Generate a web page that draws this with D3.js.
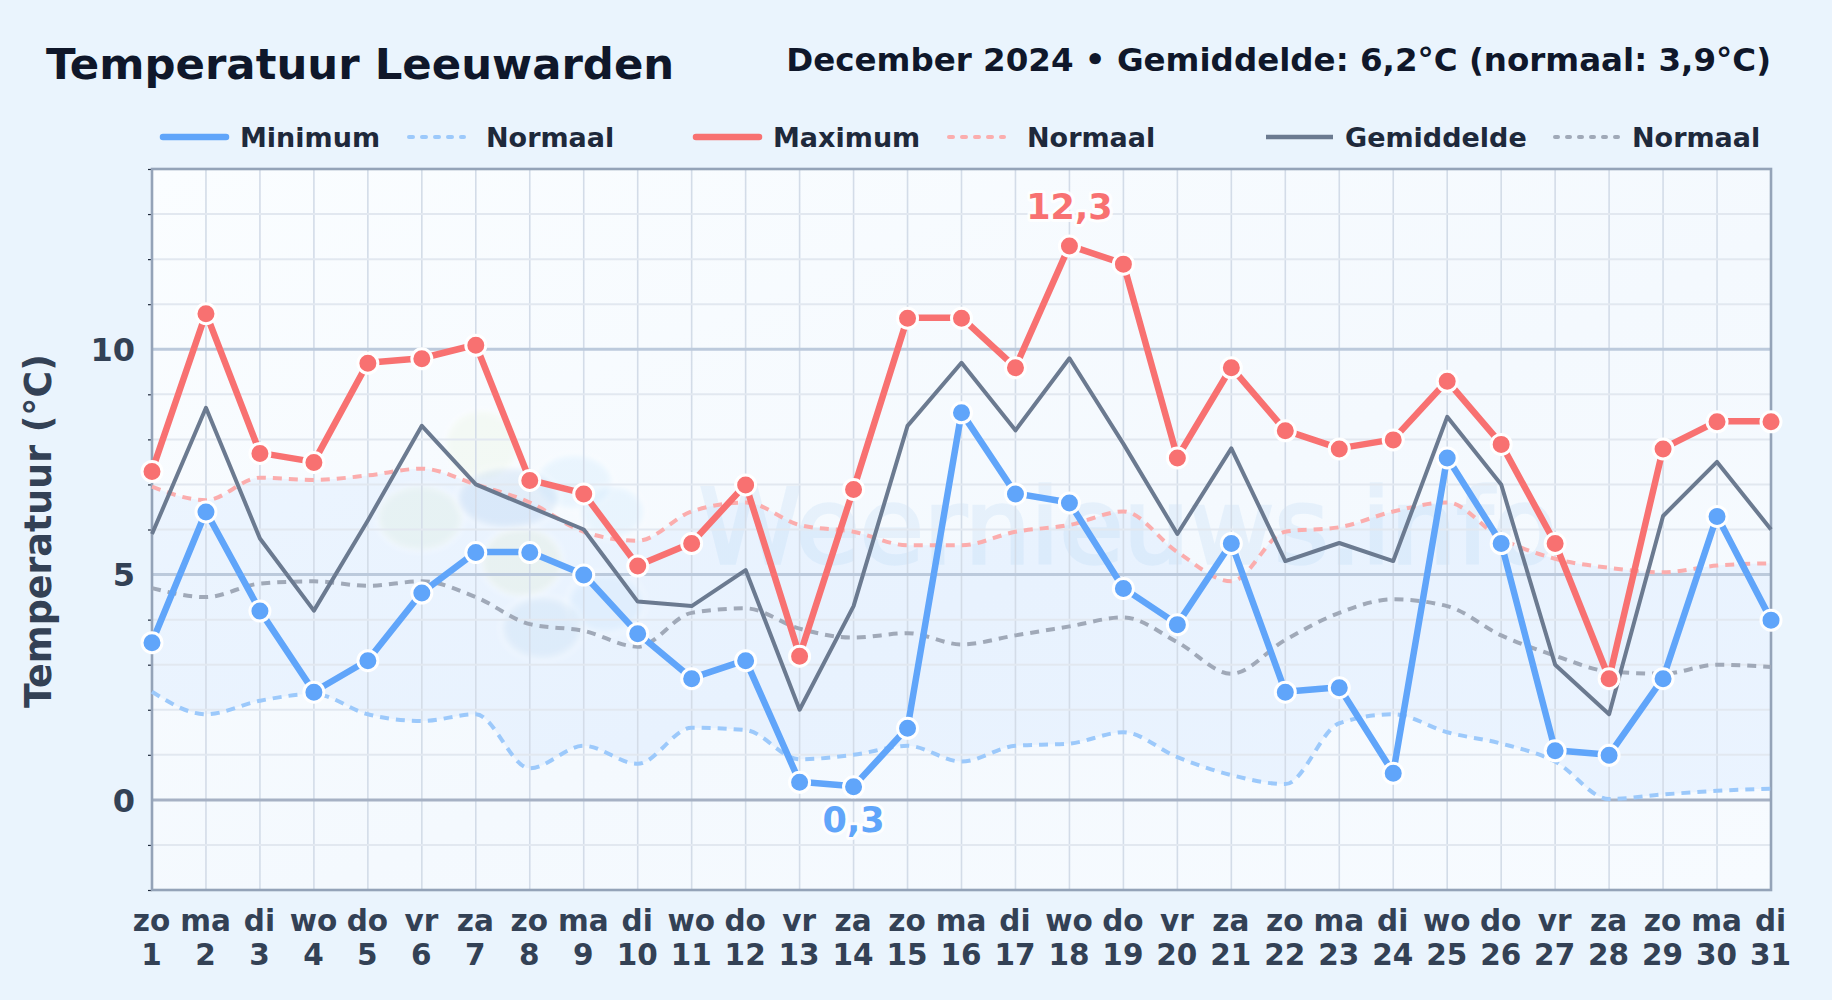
<!DOCTYPE html>
<html>
<head>
<meta charset="utf-8">
<title>Temperatuur Leeuwarden</title>
<script src="https://d3js.org/d3.v7.min.js"></script>
<style>
  html, body { margin: 0; padding: 0; background: #eaf4fd; }
  svg { display: block; }
  text { font-family: "DejaVu Sans", sans-serif; font-weight: bold; }
</style>
</head>
<body>
<div id="chart"></div>
<script>
// weekday and day labels
var dayNames = ['zo','ma','di','wo','do','vr','za','zo','ma','di','wo','do','vr','za','zo','ma','di','wo','do','vr','za','zo','ma','di','wo','do','vr','za','zo','ma','di'];
var days = d3.range(1, 32);

// temperatures
var tempMax = [7.3,10.8,7.7,7.5,9.7,9.8,10.1,7.1,6.8,5.2,5.7,7.0,3.2,6.9,10.7,10.7,9.6,12.3,11.9,7.6,9.6,8.2,7.8,8.0,9.3,7.9,5.7,2.7,7.8,8.4,8.4];
var tempMin = [3.5,6.4,4.2,2.4,3.1,4.6,5.5,5.5,5.0,3.7,2.7,3.1,0.4,0.3,1.6,8.6,6.8,6.6,4.7,3.9,5.7,2.4,2.5,0.6,7.6,5.7,1.1,1.0,2.7,6.3,4.0];
var tempAvg = [5.9,8.7,5.8,4.2,6.2,8.3,7.0,6.5,6.0,4.4,4.3,5.1,2.0,4.3,8.3,9.7,8.2,9.8,7.9,5.9,7.8,5.3,5.7,5.3,8.5,7.0,3.0,1.9,6.3,7.5,6.0];
var normMax = [6.95,6.65,7.15,7.1,7.2,7.35,7.0,6.6,5.95,5.75,6.4,6.6,6.1,5.95,5.65,5.65,5.95,6.1,6.4,5.5,4.85,5.95,6.05,6.4,6.6,5.8,5.35,5.15,5.05,5.2,5.25];
var normMin = [2.4,1.9,2.2,2.35,1.9,1.75,1.9,0.7,1.2,0.8,1.6,1.55,0.9,1.0,1.2,0.85,1.2,1.25,1.5,0.95,0.55,0.35,1.7,1.9,1.5,1.25,0.85,0.02,0.12,0.2,0.25];
var normAvg = [4.7,4.5,4.8,4.85,4.75,4.85,4.5,3.9,3.75,3.4,4.15,4.25,3.8,3.6,3.7,3.45,3.65,3.85,4.05,3.5,2.8,3.55,4.15,4.45,4.3,3.65,3.2,2.85,2.8,3.0,2.95];

var majorTicks = [0, 5, 10];
var minorTicks = [-2,-1,1,2,3,4,6,7,8,9,11,12,13,14];

var width = 1832, height = 1000;
var left = 152, right = 1771, top_ = 169, bottom = 890;

var blue = '#60a5fa', red = '#f87171', gray = '#6b7a90';
var blueDash = '#9cc9fb', redDash = '#fbadad', grayDash = '#a0a9b8';

var svg = d3.select('#chart').append('svg')
    .attr('width', width)
    .attr('height', height);

var defs = svg.append('defs');
var bgGrad = defs.append('linearGradient').attr('id', 'plotbg')
    .attr('x1', 0).attr('y1', 0).attr('x2', 1).attr('y2', 1);
bgGrad.append('stop').attr('offset', '0%').attr('stop-color', '#fafdff');
bgGrad.append('stop').attr('offset', '55%').attr('stop-color', '#f4f9fe');
bgGrad.append('stop').attr('offset', '100%').attr('stop-color', '#f7fbff');
defs.append('filter').attr('id', 'soft')
    .attr('x', '-20%').attr('y', '-20%').attr('width', '140%').attr('height', '140%')
    .append('feGaussianBlur').attr('stdDeviation', 2);

var x = d3.scaleLinear().domain([1, 31]).range([left, right]);
var y = d3.scaleLinear().domain([-2, 14]).range([bottom, top_]);

//__ plot background
svg.append('rect')
    .attr('x', left).attr('y', top_)
    .attr('width', right - left).attr('height', bottom - top_)
    .attr('fill', 'url(#plotbg)');

//__ band between the normals
var band = d3.area()
    .x(function(d) { return x(d); })
    .y0(function(d, i) { return y(normMin[i]); })
    .y1(function(d, i) { return y(normMax[i]); })
    .curve(d3.curveMonotoneX);
svg.append('path').datum(days)
    .attr('d', band)
    .attr('fill', '#60a5fa')
    .attr('fill-opacity', 0.075);

//__ watermark
var logo = svg.append('g').attr('filter', 'url(#soft)');
var blobs = [
    [482, 445, 36, 34, '#d9e8b0', 0.13],
    [420, 518, 42, 32, '#d3e3b4', 0.15],
    [522, 562, 40, 34, '#d9e8b0', 0.16],
    [574, 482, 38, 27, '#bfe0fa', 0.24],
    [612, 512, 32, 26, '#bfe0fa', 0.24],
    [606, 603, 38, 30, '#bfe0fa', 0.22],
    [508, 498, 50, 30, '#a8c8ea', 0.25],
    [542, 628, 40, 31, '#a8c8ea', 0.17]
];
logo.selectAll('ellipse').data(blobs).enter().append('ellipse')
    .attr('cx', function(d) { return d[0]; })
    .attr('cy', function(d) { return d[1]; })
    .attr('rx', function(d) { return d[2]; })
    .attr('ry', function(d) { return d[3]; })
    .attr('fill', function(d) { return d[4]; })
    .attr('fill-opacity', function(d) { return d[5]; })
    .attr('stroke', '#ffffff')
    .attr('stroke-opacity', 0.2)
    .attr('stroke-width', 8);
svg.append('text')
    .attr('x', 699).attr('y', 563)
    .attr('font-size', 104)
    .style('font-weight', 'normal')
    .attr('fill', '#a5cdf2')
    .attr('stroke', '#a5cdf2')
    .attr('stroke-width', 3.5)
    .attr('opacity', 0.18)
    .text('Weernieuws.info');

//__ grid
var grid = svg.append('g');
grid.selectAll('.gx').data(days).enter().append('line')
    .attr('x1', function(d) { return x(d); })
    .attr('x2', function(d) { return x(d); })
    .attr('y1', top_).attr('y2', bottom)
    .attr('stroke', '#d3dce8').attr('stroke-width', 1.6);
grid.selectAll('.gy').data(minorTicks).enter().append('line')
    .attr('x1', left).attr('x2', right)
    .attr('y1', function(d) { return y(d); })
    .attr('y2', function(d) { return y(d); })
    .attr('stroke', '#e2e8f0').attr('stroke-width', 2);
grid.selectAll('.gm').data(majorTicks).enter().append('line')
    .attr('x1', left).attr('x2', right)
    .attr('y1', function(d) { return y(d); })
    .attr('y2', function(d) { return y(d); })
    .attr('stroke', function(d) { return d == 0 ? '#a6b1c4' : '#bccadc'; })
    .attr('stroke-width', 3);

//__ axes
var yMinor = d3.axisLeft(y).tickValues(minorTicks).tickSize(4).tickFormat('');
svg.append('g').attr('transform', 'translate(' + left + ',0)').call(yMinor)
    .call(function(g) { g.select('.domain').remove(); })
    .selectAll('line').attr('stroke', '#1e293b').attr('stroke-width', 1.2);

var yMajor = d3.axisLeft(y).tickValues(majorTicks).tickSize(0).tickPadding(17).tickFormat(d3.format('d'));
var yAxis = svg.append('g').attr('transform', 'translate(' + left + ',1)').call(yMajor);
yAxis.select('.domain').remove();
yAxis.selectAll('text')
    .attr('font-size', 32).attr('fill', '#334155')
    .style('font-family', '"DejaVu Sans", sans-serif');

var xAxis = svg.append('g').attr('transform', 'translate(0,' + bottom + ')')
    .call(d3.axisBottom(x).tickValues(days).tickSize(0).tickFormat(''));
xAxis.select('.domain').remove();
var xLab = xAxis.selectAll('.tick').append('text')
    .attr('text-anchor', 'middle')
    .attr('font-size', 29.5).attr('fill', '#334155')
    .style('font-family', '"DejaVu Sans", sans-serif');
xLab.append('tspan').attr('x', -1).attr('y', 41).text(function(d, i) { return dayNames[i]; });
xLab.append('tspan').attr('x', -1).attr('y', 75).text(function(d) { return d; });

svg.append('text')
    .attr('transform', 'translate(51,531) rotate(-90)')
    .attr('text-anchor', 'middle')
    .attr('font-size', 36.4)
    .attr('fill', '#334155')
    .text('Temperatuur (°C)');

//__ border
svg.append('rect')
    .attr('x', left).attr('y', top_)
    .attr('width', right - left).attr('height', bottom - top_)
    .attr('fill', 'none').attr('stroke', '#94a3b8').attr('stroke-width', 2.6);

//__ lines
function drawLine(values, color, w, dash, curve) {
    var line = d3.line()
        .x(function(d, i) { return x(days[i]); })
        .y(function(d) { return y(d); })
        .curve(curve || d3.curveLinear);
    var p = svg.append('path').datum(values)
        .attr('d', line)
        .attr('fill', 'none')
        .attr('stroke', color)
        .attr('stroke-width', w)
        .attr('stroke-linejoin', 'round');
    if (dash) p.attr('stroke-dasharray', dash);
}
drawLine(normMin, blueDash, 4, '9,7', d3.curveMonotoneX);
drawLine(normMax, redDash, 4, '9,7', d3.curveMonotoneX);
drawLine(normAvg, grayDash, 4, '9,7', d3.curveMonotoneX);
drawLine(tempAvg, gray, 4);
drawLine(tempMin, blue, 6.5);
drawLine(tempMax, red, 6.5);

function drawDots(values, color) {
    svg.append('g').selectAll('circle').data(values).enter().append('circle')
        .attr('cx', function(d, i) { return x(days[i]); })
        .attr('cy', function(d) { return y(d) + 0.5; })
        .attr('r', 10)
        .attr('fill', color)
        .attr('stroke', '#ffffff')
        .attr('stroke-width', 3);
}
drawDots(tempMin, blue);
drawDots(tempMax, red);

//__ extremes
function extreme(day, value, label, color, dy) {
    svg.append('text')
        .attr('x', x(day)).attr('y', y(value) + dy)
        .attr('text-anchor', 'middle')
        .attr('font-size', 35)
        .attr('fill', color)
        .attr('stroke', '#ffffff')
        .attr('stroke-width', 6)
        .attr('stroke-opacity', 0.85)
        .attr('stroke-linejoin', 'round')
        .style('paint-order', 'stroke')
        .text(label);
}
extreme(18, 12.3, '12,3', red, -27);
extreme(14, 0.3, '0,3', blue, 46);

//__ title
svg.append('text')
    .attr('x', 46).attr('y', 79)
    .attr('font-size', 43.4)
    .attr('fill', '#0f172a')
    .text('Temperatuur Leeuwarden');
svg.append('text')
    .attr('x', 1771).attr('y', 71)
    .attr('text-anchor', 'end')
    .attr('font-size', 32.5)
    .attr('fill', '#0f172a')
    .text('December 2024 • Gemiddelde: 6,2°C (normaal: 3,9°C)');

//__ legend
var legendNames = ['Minimum','Normaal','Maximum','Normaal','Gemiddelde','Normaal'];
var legendColors = [blue, blueDash, red, redDash, gray, grayDash];
var legendX0 = [163, 409, 696, 949, 1266, 1555];
var legendX1 = [226, 464, 759, 1004, 1333, 1620];
var legendText = [240, 486, 773, 1027, 1345, 1632];

var legend = svg.append('g').selectAll('g').data(legendNames).enter().append('g');
legend.append('line')
    .attr('x1', function(d, i) { return legendX0[i]; })
    .attr('x2', function(d, i) { return legendX1[i]; })
    .attr('y1', 137).attr('y2', 137)
    .attr('stroke', function(d, i) { return legendColors[i]; })
    .attr('stroke-width', function(d, i) { return i == 4 ? 4.5 : (i % 2 ? 4 : 6.5); })
    .attr('stroke-linecap', function(d, i) { return i == 4 ? 'butt' : 'round'; })
    .attr('stroke-dasharray', function(d, i) { return i % 2 ? (i == 5 ? '3,9' : '4,9') : null; });
legend.append('text')
    .attr('x', function(d, i) { return legendText[i]; })
    .attr('y', 147)
    .attr('font-size', 27)
    .attr('fill', '#1e293b')
    .text(function(d) { return d; });
</script>
</body>
</html>
